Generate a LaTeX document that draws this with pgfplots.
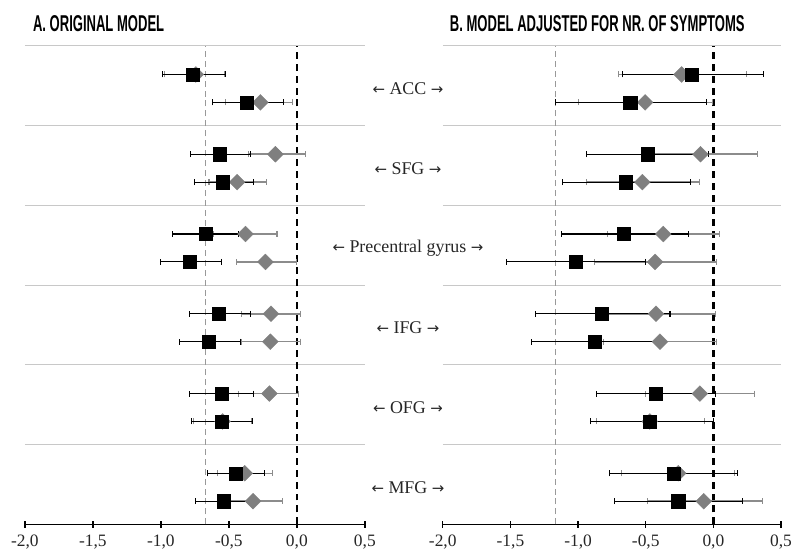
\documentclass[border=0pt]{standalone}
\usepackage{fontspec}
\setmainfont{Liberation Serif}
\newfontfamily\titlefont{Liberation Sans}[FakeStretch=0.57]
\newfontfamily\arrfont{DejaVu Sans}
\usepackage{pgfplots}
\pgfplotsset{compat=1.18}
\usepackage{pgfplotstable}
\definecolor{dgray}{HTML}{7F7F7F}
\definecolor{bgray}{HTML}{8C8C8C}
\definecolor{sepgray}{HTML}{C8C8C8}
\definecolor{refgray}{HTML}{999999}

\pgfplotstableread{
x lo hi y
-0.743 -0.97 -0.53 5.64
-0.268 -0.524 -0.031 5.29
-0.158 -0.353 0.061 4.64
-0.439 -0.646 -0.22 4.29
-0.378 -0.61 -0.146 3.64
-0.231 -0.446 -0.004 3.29
-0.19 -0.41 0.03 2.64
-0.195 -0.41 0.025 2.29
-0.202 -0.427 0.012 1.64
-0.546 -0.76 -0.33 1.29
-0.383 -0.585 -0.178 0.64
-0.322 -0.54 -0.105 0.29
}\leftgray

\pgfplotstableread{
x lo hi y
-0.768 -0.99 -0.524 5.64
-0.366 -0.62 -0.097 5.29
-0.566 -0.78 -0.341 4.64
-0.544 -0.756 -0.317 4.29
-0.67 -0.914 -0.427 3.64
-0.785 -1.0 -0.553 3.29
-0.573 -0.787 -0.341 2.64
-0.646 -0.865 -0.414 2.29
-0.553 -0.787 -0.317 1.64
-0.553 -0.773 -0.324 1.29
-0.45 -0.658 -0.239 0.64
-0.541 -0.748 -0.334 0.29
}\leftblack

\pgfplotstableread{
x lo hi y
-0.235 -0.70 0.243 5.64
-0.505 -0.995 -0.007 5.29
-0.096 -0.516 0.324 4.64
-0.525 -0.941 -0.105 4.29
-0.37 -0.782 0.047 3.64
-0.431 -0.88 0.022 3.29
-0.424 -0.865 0.017 2.64
-0.395 -0.81 0.022 2.29
-0.1 -0.504 0.304 1.64
-0.47 -0.865 -0.064 1.29
-0.26 -0.676 0.157 0.64
-0.071 -0.49 0.365 0.29
}\rightgray

\pgfplotstableread{
x lo hi y
-0.162 -0.669 0.373 5.64
-0.615 -1.167 -0.051 5.29
-0.488 -0.941 -0.035 4.64
-0.647 -1.118 -0.169 4.29
-0.664 -1.123 -0.181 3.64
-1.02 -1.529 -0.505 3.29
-0.824 -1.318 -0.321 2.64
-0.88 -1.343 -0.417 2.29
-0.424 -0.865 0.017 1.64
-0.468 -0.909 0.0 1.29
-0.296 -0.77 0.181 0.64
-0.26 -0.733 0.218 0.29
}\rightblack

\newcommand{\arrlab}[1]{{\arrfont\fontsize{15}{17}\selectfont ←}\ #1\ {\arrfont\fontsize{15}{17}\selectfont →}}

\tikzset{lab/.style={font=\fontsize{18}{21}\selectfont, text=black!85}}

\pgfplotsset{
  forest/.style={
    scale only axis, height=481pt,
    xmin=-2, xmax=0.5, ymin=0, ymax=6,
    axis x line=bottom, axis y line=none,
    x axis line style={-, line width=1.6pt, black},
    xtick={-2,-1.5,...,0.5}, ytick=\empty,
    xtick align=center, major tick length=7pt,
    every tick/.style={black, line width=1.4pt},
    xticklabel={\pgfmathprintnumber[fixed,fixed zerofill,precision=1,use comma,assume math mode=true]{\tick}},
    xticklabel style={font=\fontsize{17.5}{20}\selectfont, yshift=-4pt, text=black!85},
    clip=false,
  },
  graybars/.style={only marks, mark=square*, mark size=5.6pt,
    mark options={rotate=45, fill=dgray, draw=dgray},
    error bars/.cd, x dir=both, x explicit,
    error bar style={line width=1.5pt, bgray},
    error mark options={rotate=90, line width=1.1pt, mark size=3pt, bgray}},
  blackbars/.style={only marks, mark=square*, mark size=6.6pt,
    mark options={fill=black, draw=black},
    error bars/.cd, x dir=both, x explicit,
    error bar style={line width=1.1pt, black},
    error mark options={rotate=90, line width=1.1pt, mark size=3pt, black}},
}

\begin{document}
\begin{tikzpicture}[x=1pt,y=1pt]
\useasboundingbox (0,0) rectangle (798,562);
\node[anchor=base west, inner sep=0pt, font=\titlefont\bfseries\fontsize{23}{26}\selectfont] at (33,530) {A. ORIGINAL MODEL};
\node[anchor=base west, inner sep=0pt, font=\titlefont\bfseries\fontsize{23}{26}\selectfont] at (452,530) {B. MODEL ADJUSTED FOR NR. OF SYMPTOMS};

\begin{axis}[forest, width=341.7pt, at={(25pt,35pt)}, anchor=south west]
  \pgfplotsinvokeforeach{1,...,6}{\draw[sepgray, line width=0.9pt] (axis cs:-2,#1) -- (axis cs:0.5,#1);}
  \draw[refgray, line width=1.4pt, dash pattern=on 6pt off 4pt] (axis cs:-0.67,0) -- (axis cs:-0.67,6);
  \draw[black, line width=2.2pt, dash pattern=on 7pt off 5pt] (axis cs:0,0) -- (axis cs:0,6);
  \addplot[graybars] table[x=x, y=y, x error plus expr=\thisrow{hi}-\thisrow{x}, x error minus expr=\thisrow{x}-\thisrow{lo}] {\leftgray};
  \addplot[blackbars] table[x=x, y=y, x error plus expr=\thisrow{hi}-\thisrow{x}, x error minus expr=\thisrow{x}-\thisrow{lo}] {\leftblack};
  \node[lab] at (axis cs:0.817,5.46) {\arrlab{ACC}};
  \node[lab] at (axis cs:0.817,4.46) {\arrlab{SFG}};
  \node[lab] at (axis cs:0.817,3.46) {\arrlab{Precentral gyrus}};
  \node[lab] at (axis cs:0.817,2.46) {\arrlab{IFG}};
  \node[lab] at (axis cs:0.817,1.46) {\arrlab{OFG}};
  \node[lab] at (axis cs:0.817,0.46) {\arrlab{MFG}};
\end{axis}

\begin{axis}[forest, width=340pt, at={(445pt,35pt)}, anchor=south west]
  \pgfplotsinvokeforeach{1,...,6}{\draw[sepgray, line width=0.9pt] (axis cs:-2,#1) -- (axis cs:0.5,#1);}
  \draw[refgray, line width=1.4pt, dash pattern=on 6pt off 4pt] (axis cs:-1.167,0) -- (axis cs:-1.167,6);
  \draw[black, line width=2.2pt, dash pattern=on 7pt off 5pt] (axis cs:0,0) -- (axis cs:0,6);
  \addplot[graybars] table[x=x, y=y, x error plus expr=\thisrow{hi}-\thisrow{x}, x error minus expr=\thisrow{x}-\thisrow{lo}] {\rightgray};
  \addplot[blackbars] table[x=x, y=y, x error plus expr=\thisrow{hi}-\thisrow{x}, x error minus expr=\thisrow{x}-\thisrow{lo}] {\rightblack};
\end{axis}
\end{tikzpicture}
\end{document}
